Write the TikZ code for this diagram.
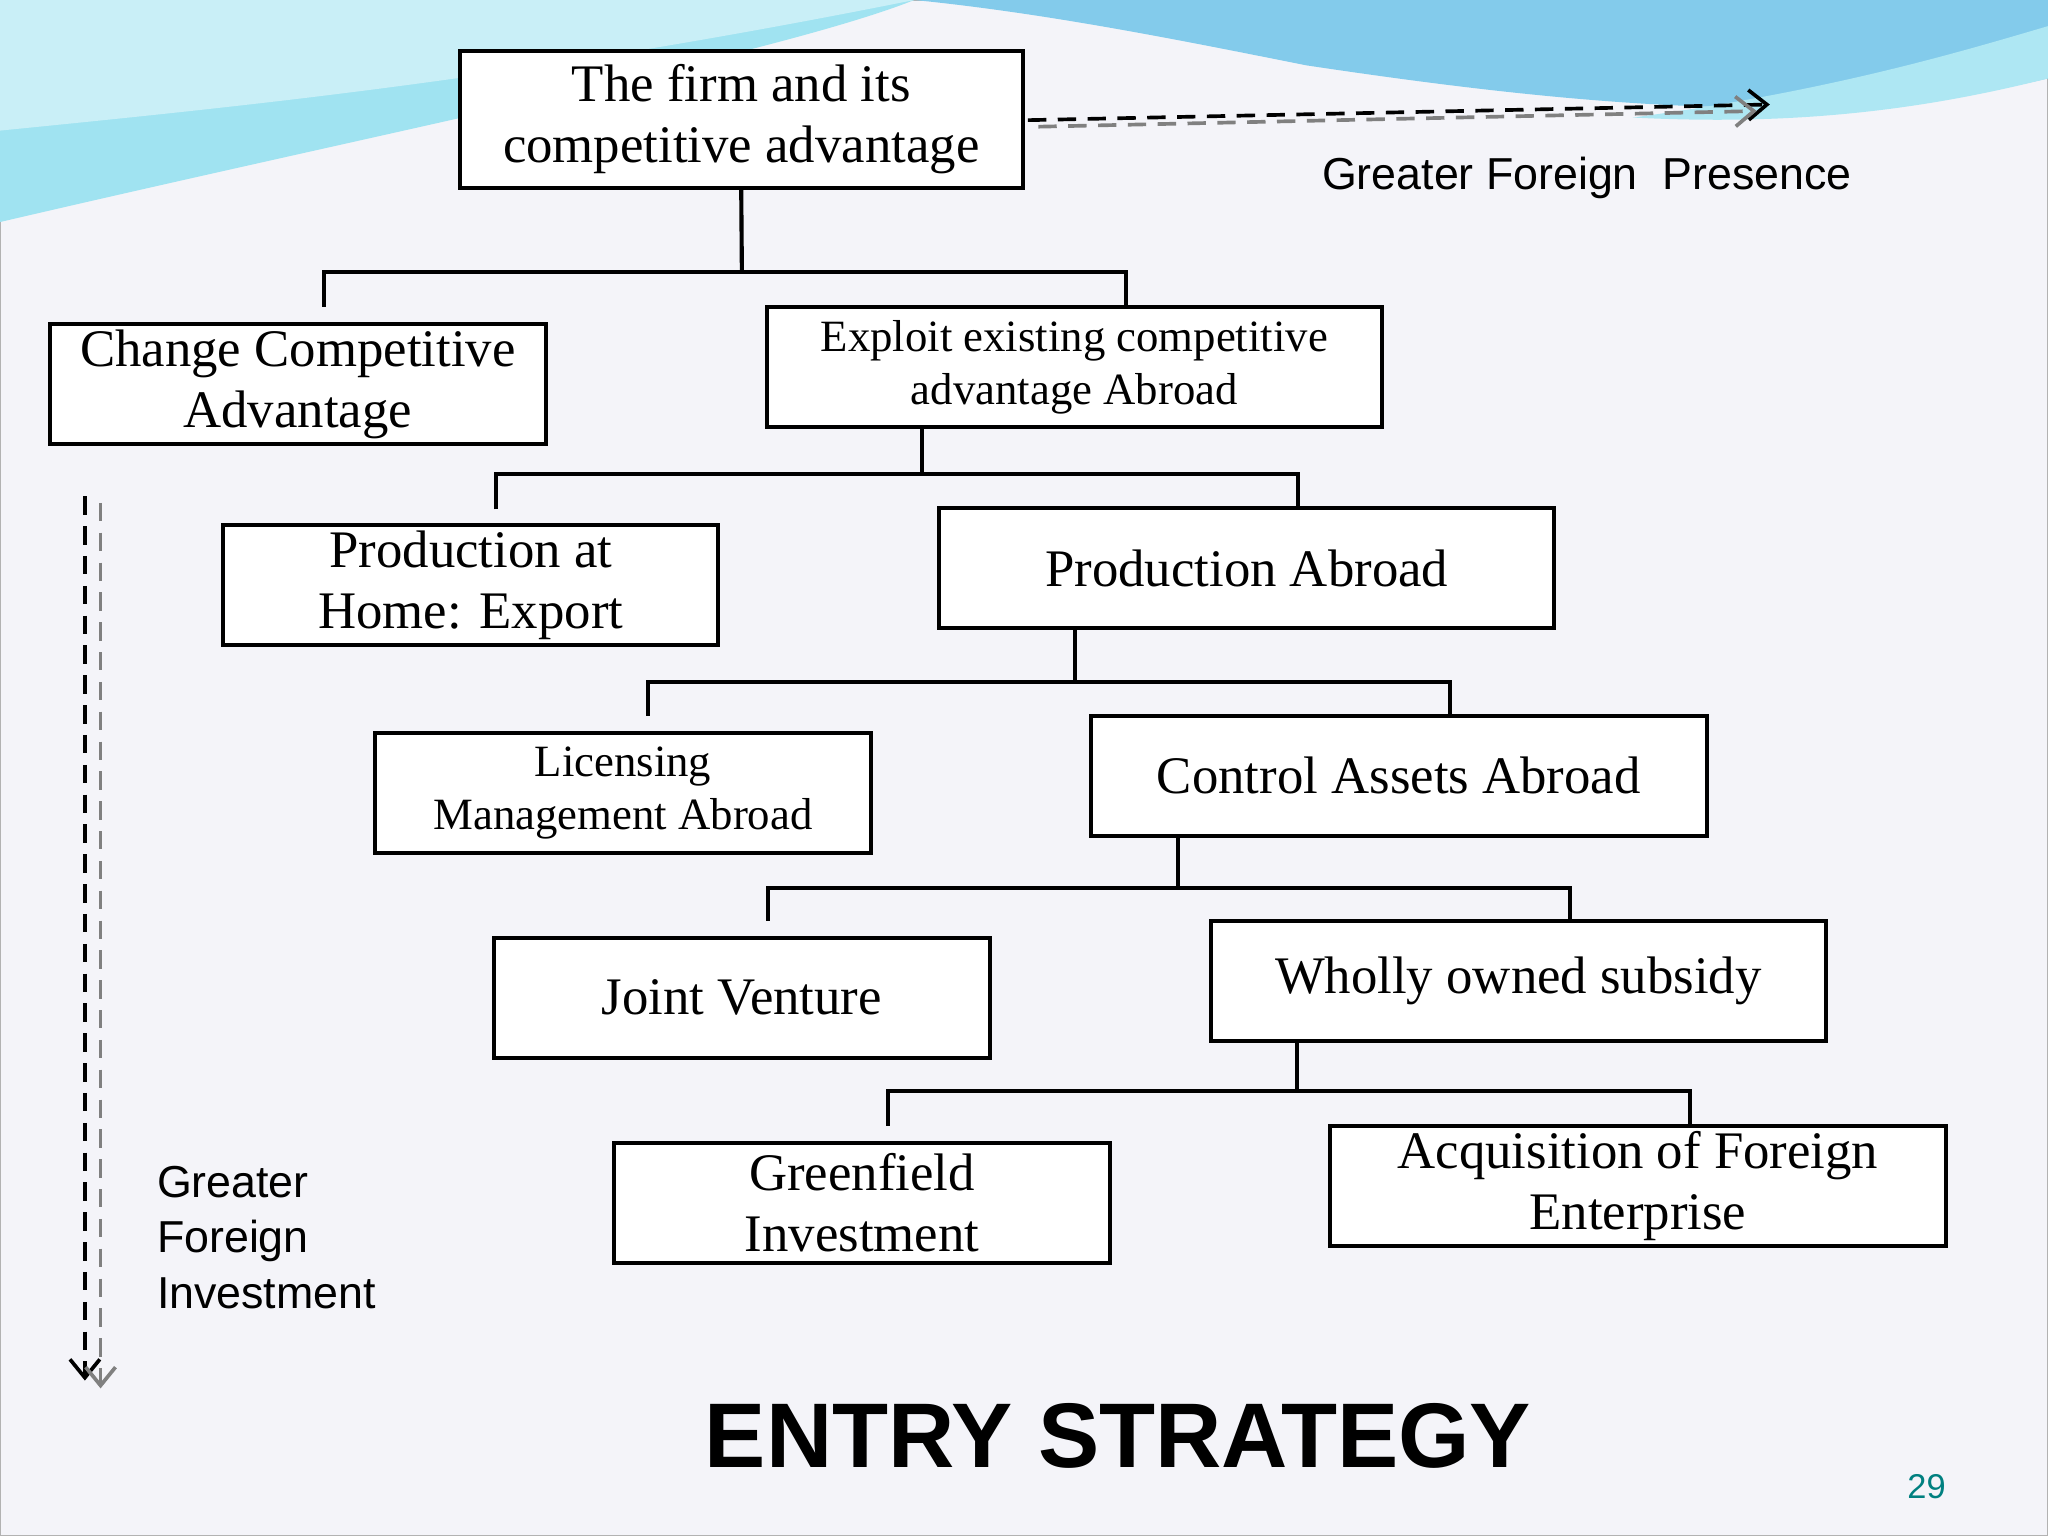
\documentclass[tikz,border=0pt]{standalone}
\usepackage{fontspec}
\setmainfont{Liberation Serif}
\setsansfont{Liberation Sans}
\usetikzlibrary{arrows.meta}
\definecolor{bg}{RGB}{244,244,249}
\definecolor{wave1}{RGB}{120,215,235}
\definecolor{wave2}{RGB}{100,190,230}
\begin{document}
\begin{tikzpicture}[x=0.02cm,y=-0.02cm,
  box/.style={draw,line width=1.8pt,fill=white,inner sep=0pt,align=center,font=\fontsize{23}{26.5}\selectfont},
  sbox/.style={box,font=\fontsize{19.5}{23}\selectfont},
  link/.style={line width=1.8pt},
  dsh/.style={line width=1.6pt,dash pattern=on 8pt off 5pt,-{Straight Barb[length=8pt,width=13pt,line width=1.6pt]}},
  lbl/.style={font=\sffamily\fontsize{19.5}{24}\selectfont}]
\useasboundingbox (0,0) rectangle (1568,1176);
\fill[bg] (0,0) rectangle (1568,1176);
\draw[gray!60,line width=1pt] (0,0) rectangle (1568,1176);
% top waves
\fill[wave1!70!white] (0,0) -- (700,0) .. controls (600,40) and (300,100) .. (0,170) -- cycle;
\fill[wave1!40!white] (0,100) .. controls (200,80) and (400,60) .. (700,0) -- (0,0) -- cycle;
\fill[wave2!80!white] (700,0) -- (1568,0) -- (1568,60) .. controls (1400,100) and (1200,80) .. (1000,50) .. controls (900,30) and (800,10) .. cycle;
\fill[wave1!60!white] (1250,90) .. controls (1400,70) and (1500,40) .. (1568,20) -- (1568,60) .. controls (1450,90) and (1350,95) .. cycle;
% boxes
\node[box,minimum width=431*0.02cm,minimum height=105*0.02cm] (firm) at (567.5,91.5) {The firm and its\\competitive advantage};
\node[box,minimum width=380*0.02cm,minimum height=92*0.02cm] (change) at (228,294) {Change Competitive\\Advantage};
\node[sbox,minimum width=471*0.02cm,minimum height=92*0.02cm] (exploit) at (822.5,281) {Exploit existing competitive\\advantage Abroad};
\node[box,minimum width=379*0.02cm,minimum height=92*0.02cm] (home) at (360.5,448) {Production at\\Home: Export};
\node[box,minimum width=471*0.02cm,minimum height=92*0.02cm] (pabroad) at (954.5,435) {Production Abroad};
\node[sbox,minimum width=380*0.02cm,minimum height=92*0.02cm] (lic) at (477,607) {Licensing\\Management Abroad};
\node[box,minimum width=472*0.02cm,minimum height=92*0.02cm] (control) at (1071,594) {Control Assets Abroad};
\node[box,minimum width=380*0.02cm,minimum height=92*0.02cm] (joint) at (568,764) {Joint Venture};
\node[box,minimum width=471*0.02cm,minimum height=92*0.02cm] (wholly) at (1162.5,751) {Wholly owned subsidy};
\node[box,minimum width=380*0.02cm,minimum height=92*0.02cm] (green) at (660,921) {Greenfield\\Investment};
\node[box,minimum width=472*0.02cm,minimum height=92*0.02cm] (acq) at (1254,908) {Acquisition of Foreign\\Enterprise};
% connectors
\coordinate (b1) at (568,208);
\draw[link] (firm.south) -- (b1);
\draw[link] (248,235) -- (248,208) -- (862,208) -- (862,235);
\coordinate (b2) at (706,363);
\draw[link] (exploit.south -| b2) -- (b2);
\draw[link] (380,390) -- (380,363) -- (994,363) -- (994,389);
\coordinate (b3) at (823,522);
\draw[link] (pabroad.south -| b3) -- (b3);
\draw[link] (496,548) -- (496,522) -- (1110,522) -- (1110,548);
\coordinate (b4) at (902,680);
\draw[link] (control.south -| b4) -- (b4);
\draw[link] (588,705) -- (588,680) -- (1202,680) -- (1202,705);
\coordinate (b5) at (993,835);
\draw[link] (wholly.south -| b5) -- (b5);
\draw[link] (680,862) -- (680,835) -- (1294,835) -- (1294,862);
% dashed arrows
\coordinate (t1) at (787,92); \coordinate (t2) at (1355,80);
\coordinate (t3) at (795,97); \coordinate (t4) at (1345,85);
\draw[dsh,black] (t1) -- (t2);
\draw[dsh,gray] (t3) -- (t4);
\coordinate (l1) at (65,380); \coordinate (l2) at (65,1057);
\coordinate (l3) at (77,385); \coordinate (l4) at (77,1063);
\draw[dsh,black] (l1) -- (l2);
\draw[dsh,gray] (l3) -- (l4);
% labels
\node[lbl,anchor=west] (gfp) at (1006,136) {Greater Foreign\ \ Presence};
\node[lbl,anchor=north west,align=left] (gfi) at (114,887) {Greater\\Foreign\\Investment};
\node[font=\sffamily\bfseries\fontsize{40}{46}\selectfont] (title) at (856,1099) {ENTRY STRATEGY};
\node[font=\sffamily\fontsize{15}{18}\selectfont,text=teal] (pg) at (1475,1138) {29};
\end{tikzpicture}
\end{document}
